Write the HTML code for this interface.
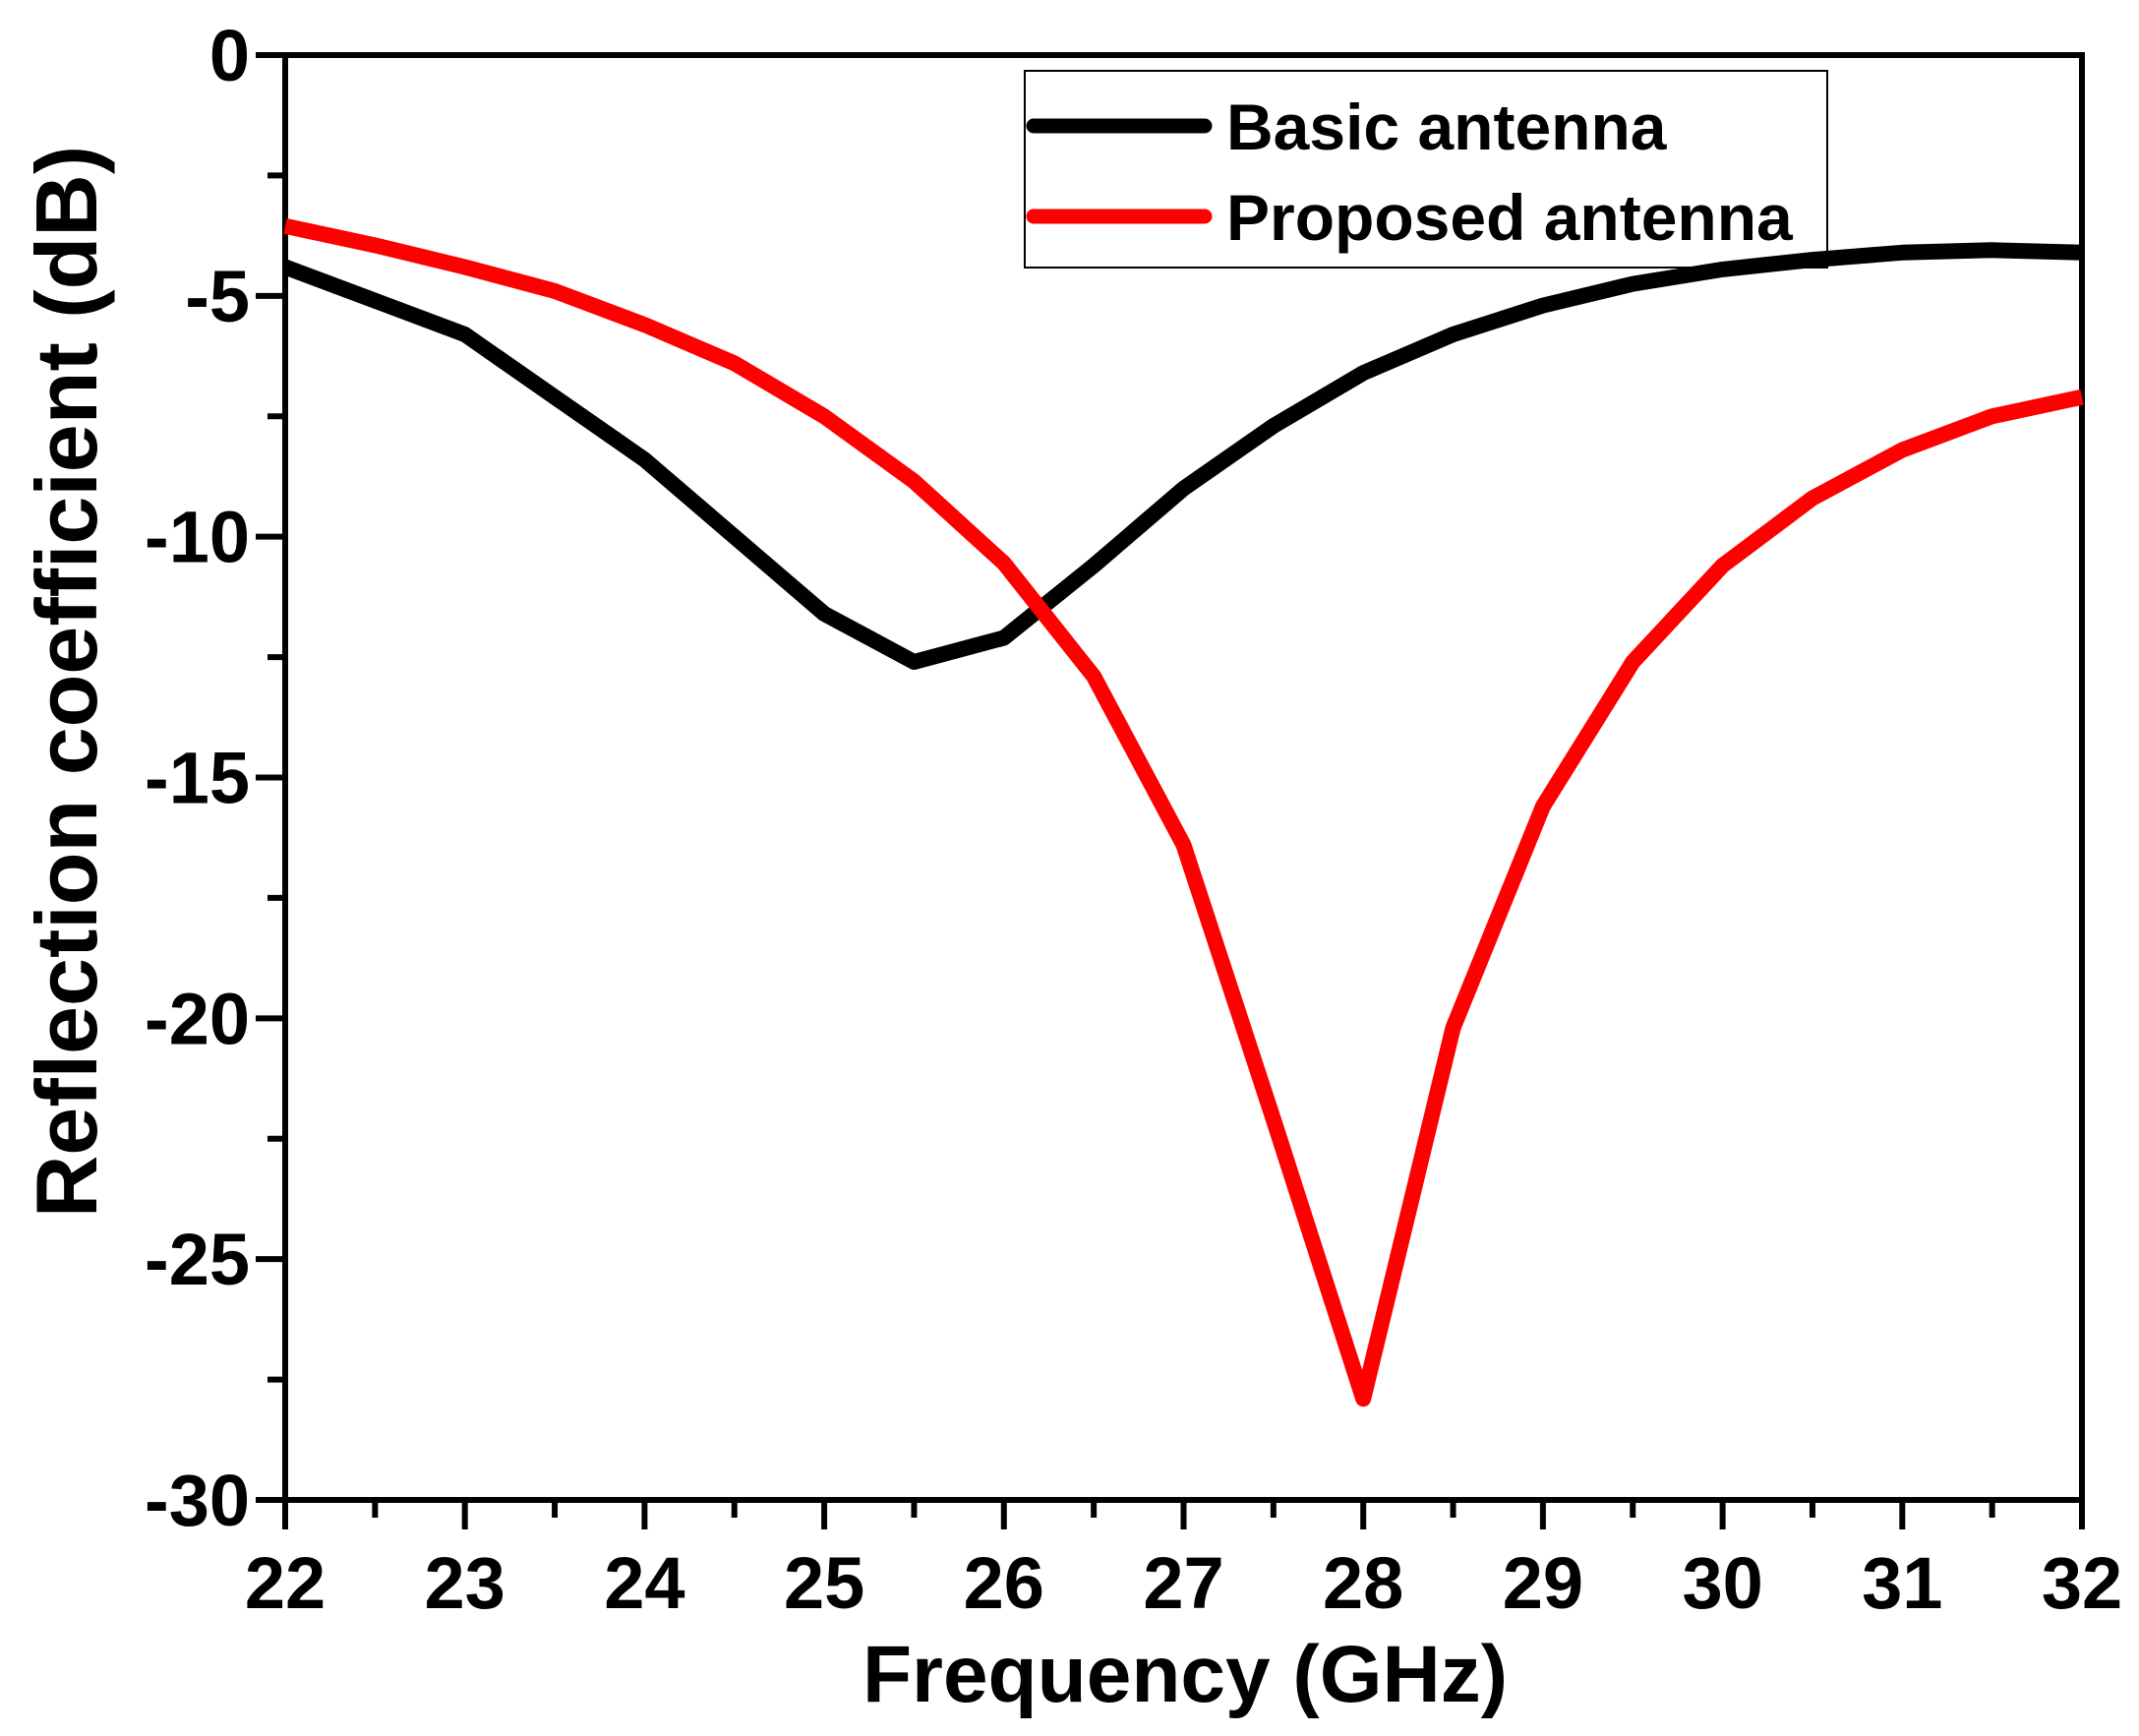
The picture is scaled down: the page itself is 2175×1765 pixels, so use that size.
<!DOCTYPE html>
<html><head><meta charset="utf-8"><style>
html,body{margin:0;padding:0;background:#fff}
svg text{font-family:"Liberation Sans",Arial,sans-serif;font-weight:bold;fill:#000}
</style></head><body>
<svg id="chart" width="2175" height="1760" xmlns="http://www.w3.org/2000/svg">
<g id="axes"></g>
<g id="series"></g>
<rect x="1042" y="72" width="816" height="200" fill="none" stroke="#000" stroke-width="2"/>
<line x1="1051" y1="128" x2="1225" y2="128" stroke="#000" stroke-width="15" stroke-linecap="round"/>
<text x="1247" y="152" font-size="66">Basic antenna</text>
<line x1="1051" y1="220" x2="1225" y2="220" stroke="#f00" stroke-width="15" stroke-linecap="round"/>
<text x="1247" y="244" font-size="66">Proposed antenna</text>
<text x="1205" y="1730" font-size="82" text-anchor="middle">Frequency (GHz)</text>
<text transform="translate(98,693) rotate(-90)" font-size="88" text-anchor="middle">Reflection coefficient (dB)</text>
</svg>
<script>
const freqs=[22,22.5,23,23.5,24,24.5,25,25.5,26,26.5,27,27.5,28,28.5,29,29.5,30,30.5,31,31.5,32];
const basic=[-4.4,-5.1,-5.8,-7.1,-8.4,-10,-11.6,-12.6,-12.1,-10.6,-9.0,-7.7,-6.6,-5.8,-5.2,-4.75,-4.45,-4.25,-4.1,-4.05,-4.1];
const proposed=[-3.55,-3.95,-4.4,-4.9,-5.6,-6.4,-7.5,-8.85,-10.55,-12.9,-16.4,-22.1,-27.9,-20.2,-15.6,-12.6,-10.6,-9.2,-8.2,-7.5,-7.1];
const xTicks=[22,23,24,25,26,27,28,29,30,31,32];
const yTicks=[0,-5,-10,-15,-20,-25,-30];
const L=290,R=2117,T=56,B=1525;
const sx=v=>L+(v-22)/10*(R-L);
const sy=v=>T+(0-v)/30*(B-T);
const NS="http://www.w3.org/2000/svg";
function mk(tag,attrs,parent){const e=document.createElementNS(NS,tag);for(const k in attrs)e.setAttribute(k,attrs[k]);parent.appendChild(e);return e;}
const ax=document.getElementById('axes');
let frame=mk('rect',{x:L,y:T,width:R-L,height:B-T,fill:'none',stroke:'#000','stroke-width':6},ax);


xTicks.forEach(v=>{
  let t=mk('line',{x1:sx(v),y1:B,x2:sx(v),y2:B+30,stroke:'#000','stroke-width':6},ax);
  
  
  if(v<32){let m=mk('line',{x1:sx(v+0.5),y1:B,x2:sx(v+0.5),y2:B+18,stroke:'#000','stroke-width':6},ax);
  
  }
  let l=mk('text',{x:sx(v),y:B+110,'font-size':74,'text-anchor':'middle'},ax);l.textContent=v;
  
  
});
yTicks.forEach(v=>{
  let t=mk('line',{x1:L-30,y1:sy(v),x2:L,y2:sy(v),stroke:'#000','stroke-width':6},ax);
  
  
  if(v>-30){let m=mk('line',{x1:L-18,y1:sy(v-2.5),x2:L,y2:sy(v-2.5),stroke:'#000','stroke-width':6},ax);
  
  }
  let l=mk('text',{x:L-36,y:sy(v)+26,'font-size':74,'text-anchor':'end'},ax);l.textContent=v;
  
  
});
const sg=document.getElementById('series');
function line(data,color,name){
  const d=data.map((v,i)=>(i?'L':'M')+sx(freqs[i]).toFixed(1)+' '+sy(v).toFixed(1)).join(' ');
  let p=mk('path',{d:d,fill:'none',stroke:color,'stroke-width':16,'stroke-linejoin':'round'},sg);
  
  
}
line(basic,'#000','basic-antenna-line');
line(proposed,'#f00','proposed-antenna-line');
</script>
</body></html>
